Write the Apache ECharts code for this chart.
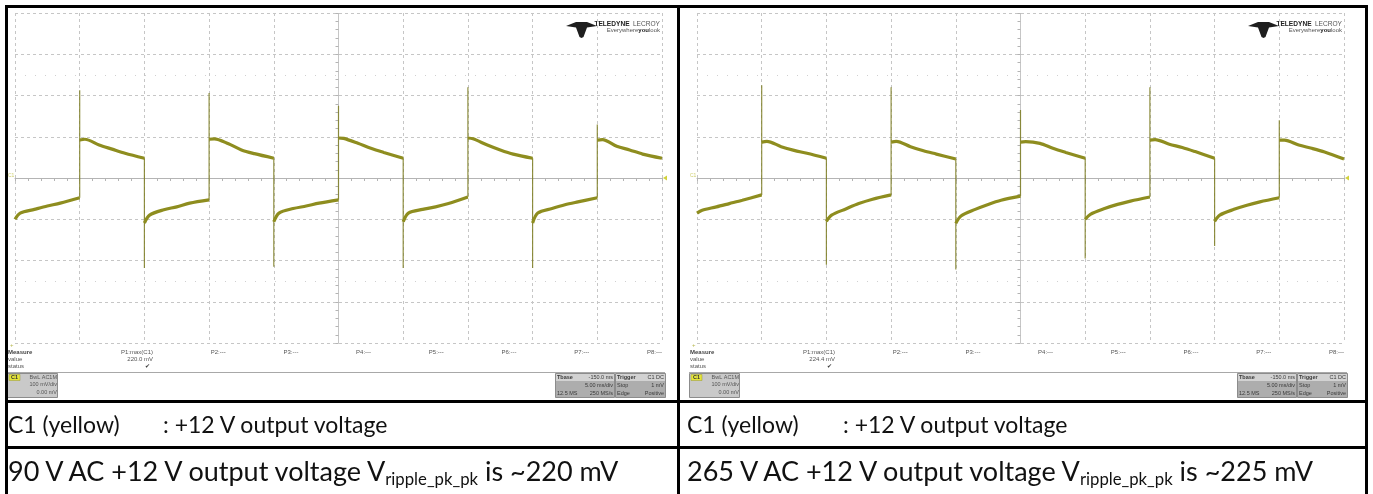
<!DOCTYPE html>
<html>
<head>
<meta charset="utf-8">
<script src="https://cdn.jsdelivr.net/npm/echarts@6/dist/echarts.min.js"></script>
<style>
  body { margin: 0; background: #fff; }
  #page { position: relative; width: 1373px; height: 494px; overflow: hidden; background: #fff; }
  #chart { position: absolute; left: 0; top: 0; width: 1373px; height: 494px; }
  .rule { position: absolute; background: #000; }
  .txt { position: absolute; font-family: Lato, "Noto Sans", sans-serif; color: #111; white-space: nowrap; line-height: 1; }
  .r1 { font-size: 23px; top: 413px; }
  .r2 { font-size: 27px; top: 457px; }
  sub { font-size: 62%; vertical-align: -0.25em; }
</style>
</head>
<body>
<div id="page">
  <div id="chart"></div>
  <div class="rule" style="left:5px;top:5px;width:1363px;height:3px"></div>
  <div class="rule" style="left:5px;top:5px;width:3px;height:489px"></div>
  <div class="rule" style="left:677px;top:5px;width:3px;height:489px"></div>
  <div class="rule" style="left:1365px;top:5px;width:3px;height:489px"></div>
  <div class="rule" style="left:5px;top:400px;width:1363px;height:3px"></div>
  <div class="rule" style="left:5px;top:446px;width:1363px;height:3px"></div>

  <div class="txt r1" style="left:8px">C1 (yellow)</div>
  <div class="txt r1" style="left:163px">: +12 V output voltage</div>
  <div class="txt r2" style="left:8px">90 V AC +12 V output voltage V<sub>ripple_pk_pk</sub> is ~220 mV</div>

  <div class="txt r1" style="left:687px">C1 (yellow)</div>
  <div class="txt r1" style="left:843px">: +12 V output voltage</div>
  <div class="txt r2" style="left:687px">265 V AC +12 V output voltage V<sub>ripple_pk_pk</sub> is ~225 mV</div>
</div>
<script>
// time in ms relative to screen centre (5 ms/div), amplitude in mV (100 mV/div)
const halfStarts = [-25, -20, -15, -10, -5, 0, 5, 10, 15, 20];
const offsets = [0, 0.4, 1.5, 2.5, 3.5, 5];

// 90 V AC capture: low / high half cycles alternating
const halves90 = [
  [-100, -85, -76, -68, -61, -48],
  [92, 94, 80, 70, 60, 48],
  [-109, -90, -77, -70, -61, -53],
  [94, 95, 83, 68, 59, 48],
  [-106, -85, -74, -68, -61, -53],
  [97, 96, 84, 72, 62, 48],
  [-106, -85, -76, -70, -62, -46],
  [97, 95, 80, 68, 58, 48],
  [-109, -85, -74, -65, -58, -48],
  [92, 93, 77, 68, 58, 48]
];
const spikes90 = [213, -218, 206, -215, 175, -218, 220, -218, 130];

// 265 V AC capture
const halves265 = [
  [-85, -78, -70, -62, -54, -41],
  [87, 89, 76, 67, 60, 48],
  [-105, -90, -75, -62, -52, -41],
  [87, 89, 76, 66, 58, 46],
  [-110, -92, -76, -64, -54, -44],
  [87, 88, 84, 72, 62, 48],
  [-100, -88, -74, -64, -56, -46],
  [92, 93, 82, 74, 64, 48],
  [-105, -90, -76, -66, -58, -48],
  [92, 92, 80, 72, 63, 46]
];
const spikes265 = [225, -210, 220, -222, 165, -195, 220, -165, 140];

const paramLabels = ['P1:max(C1)', 'P2:---', 'P3:---', 'P4:---', 'P5:---', 'P6:---', 'P7:---', 'P8:---'];
const measured = ['220.0 mV', '224.4 mV'];
const chLines = ['BwL AC1M', '100 mV/div', '0.00 mV'];
const tbaseLines = [['Tbase', '-150.0 ms'], ['', '5.00 ms/div'], ['12.5 MS', '250 MS/s']];
const trigLines = [['Trigger', 'C1 DC'], ['Stop', '1 mV'], ['Edge', 'Positive']];

const TRACE = '#8e8d1f';
const panelDx = [0, 682];

function segData(halves) {
  const out = [];
  halves.forEach(function (vals, i) {
    offsets.forEach(function (o, j) { out.push([halfStarts[i] + o, vals[j]]); });
    out.push([halfStarts[i] + 5, '-']);
  });
  return out;
}
function edgeData(halves, spikes) {
  const out = [];
  spikes.forEach(function (s, k) {
    const t = halfStarts[k + 1];
    out.push([t, halves[k][halves[k].length - 1]], [t, s], [t, halves[k + 1][0]], [t, '-']);
  });
  return out;
}

function makeAxes(gi) {
  const x = {
    type: 'value', gridIndex: gi, min: -25, max: 25, interval: 5,
    axisLine: { show: true, onZero: true, lineStyle: { color: '#b4b4b4', width: 1 } },
    axisTick: { show: true, length: 3, lineStyle: { color: '#b4b4b4' } },
    minorTick: { show: true, splitNumber: 5, length: 3, lineStyle: { color: '#b4b4b4' } },
    axisLabel: { show: false },
    splitLine: { show: true, lineStyle: { color: '#c6c6c6', type: [3, 3], width: 1 } }
  };
  const y = {
    type: 'value', gridIndex: gi, min: -400, max: 400, interval: 100,
    axisLine: { show: true, onZero: true, lineStyle: { color: '#c6c6c6', type: [3, 3], width: 1 } },
    axisTick: { show: true, length: 3, lineStyle: { color: '#b4b4b4' } },
    minorTick: { show: true, splitNumber: 5, length: 3, lineStyle: { color: '#b4b4b4' } },
    axisLabel: { show: false },
    splitLine: { show: true, lineStyle: { color: '#c6c6c6', type: [3, 3], width: 1 } }
  };
  return [x, y];
}

function traceSeries(gi, halves, spikes) {
  return [
    {
      type: 'line', xAxisIndex: gi, yAxisIndex: gi, data: edgeData(halves, spikes),
      showSymbol: false, silent: true, connectNulls: false,
      lineStyle: { color: '#7d7c22', width: 1.2, opacity: 0.85 },
      markLine: {
        silent: true, symbol: 'none', label: { show: false },
        lineStyle: { color: '#d0d0d0', type: [1, 9], width: 1.2 },
        data: [{ yAxis: 250 }, { yAxis: -250 }]
      }
    },
    {
      type: 'line', xAxisIndex: gi, yAxisIndex: gi, data: segData(halves),
      showSymbol: false, silent: true, connectNulls: false, smooth: 0.3,
      lineStyle: { color: TRACE, width: 3.2 }
    }
  ];
}

function txt(g, x, y, s, opt) {
  opt = opt || {};
  g.push({
    type: 'text', x: x, y: y, silent: true,
    style: {
      text: s, fill: opt.color || '#555',
      font: (opt.bold ? 'bold ' : '') + (opt.size || 6) + 'px "Liberation Sans", Arial, sans-serif',
      align: opt.align || 'left', verticalAlign: 'middle'
    }
  });
}

function panelGraphics(p) {
  const dx = panelDx[p];
  const g = [];
  // logo
  g.push({
    type: 'polygon', silent: true,
    shape: { points: [[566 + dx, 26], [576 + dx, 22], [587 + dx, 22], [597 + dx, 26], [587 + dx, 27.5], [583.5 + dx, 37], [581.5 + dx, 38], [579.5 + dx, 37], [576 + dx, 27.5]] },
    style: { fill: '#1e1e1e' }
  });
  g.push({
    type: 'text', x: 660 + dx, y: 24.5, silent: true,
    style: {
      text: '{b|TELEDYNE} {l|LECROY}', verticalAlign: 'middle', align: 'right',
      rich: {
        b: { font: 'bold 6.6px "Liberation Sans Narrow", "Liberation Sans", Arial', fill: '#222' },
        l: { font: '6.6px "Liberation Sans Narrow", "Liberation Sans", Arial', fill: '#555' }
      }
    }
  });
  g.push({
    type: 'text', x: 660 + dx, y: 30.5, silent: true,
    style: {
      text: '{n|Everywhere}{b|you}{n|look}', verticalAlign: 'middle', align: 'right',
      rich: {
        n: { font: '6px "Liberation Sans Narrow", "Liberation Sans", Arial', fill: '#555' },
        b: { font: 'bold 6px "Liberation Sans Narrow", "Liberation Sans", Arial', fill: '#222' }
      }
    }
  });
  // channel / trigger markers
  txt(g, 8 + dx, 176, 'C1', { size: 5, color: '#cfcf70' });
  g.push({ type: 'polygon', silent: true, shape: { points: [[663 + dx, 178], [667 + dx, 175.5], [667 + dx, 180.5]] }, style: { fill: '#d2d23c' } });
  txt(g, 10 + dx, 345, '+', { size: 6, color: '#b8b850' });
  // measure table
  txt(g, 8 + dx, 352, 'Measure', { bold: true, color: '#444' });
  txt(g, 8 + dx, 359, 'value');
  txt(g, 8 + dx, 366, 'status');
  paramLabels.forEach(function (s, i) { txt(g, 153 + i * 72.7 + dx, 352, s, { align: 'right' }); });
  txt(g, 153 + dx, 359, measured[p], { align: 'right' });
  txt(g, 150 + dx, 366, '\u2714', { align: 'right', color: '#333' });
  g.push({ type: 'line', silent: true, shape: { x1: 7 + dx, y1: 372.5, x2: 665 + dx, y2: 372.5 }, style: { stroke: '#a8a8a8', lineWidth: 1 } });
  // channel box
  g.push({ type: 'rect', silent: true, shape: { x: 7.5 + dx, y: 373.5, width: 50, height: 24 }, style: { fill: '#c9c9c9', stroke: '#8c8c8c', lineWidth: 1 } });
  g.push({ type: 'rect', silent: true, shape: { x: 9 + dx, y: 374.5, width: 11, height: 6 }, style: { fill: '#e4e43a', stroke: '#9a9a30', lineWidth: 0.5 } });
  txt(g, 14.5 + dx, 377.8, 'C1', { bold: true, size: 5.5, color: '#333', align: 'center' });
  chLines.forEach(function (s, i) { txt(g, 57 + dx, 377.5 + i * 7.3, s, { size: 5.5, align: 'right' }); });
  // timebase + trigger boxes
  [[555, 59, tbaseLines], [615, 50, trigLines]].forEach(function (b) {
    const x0 = b[0] + dx, w = b[1];
    g.push({ type: 'rect', silent: true, shape: { x: x0 + 0.5, y: 373.5, width: w, height: 24 }, style: { fill: '#adadad', stroke: '#8c8c8c', lineWidth: 1 } });
    g.push({ type: 'rect', silent: true, shape: { x: x0 + 1, y: 374, width: w - 1, height: 7 }, style: { fill: '#d2d2d2' } });
    b[2].forEach(function (row, i) {
      const y = 377.5 + i * 8;
      if (row[0]) txt(g, x0 + 2, y, row[0], { size: 5.5, bold: i === 0, color: '#3a3a3a' });
      txt(g, x0 + w - 1, y, row[1], { size: 5.5, color: '#3a3a3a', align: 'right' });
    });
  });
  return g;
}

const ax0 = makeAxes(0), ax1 = makeAxes(1);
const chart = echarts.init(document.getElementById('chart'), null, { renderer: 'canvas' });
chart.setOption({
  animation: false,
  backgroundColor: 'transparent',
  grid: [
    { left: 15, top: 13, width: 647, height: 330 },
    { left: 697, top: 13, width: 647, height: 330 }
  ],
  xAxis: [ax0[0], ax1[0]],
  yAxis: [ax0[1], ax1[1]],
  series: traceSeries(0, halves90, spikes90).concat(traceSeries(1, halves265, spikes265)),
  graphic: panelGraphics(0).concat(panelGraphics(1))
});
</script>
</body>
</html>
